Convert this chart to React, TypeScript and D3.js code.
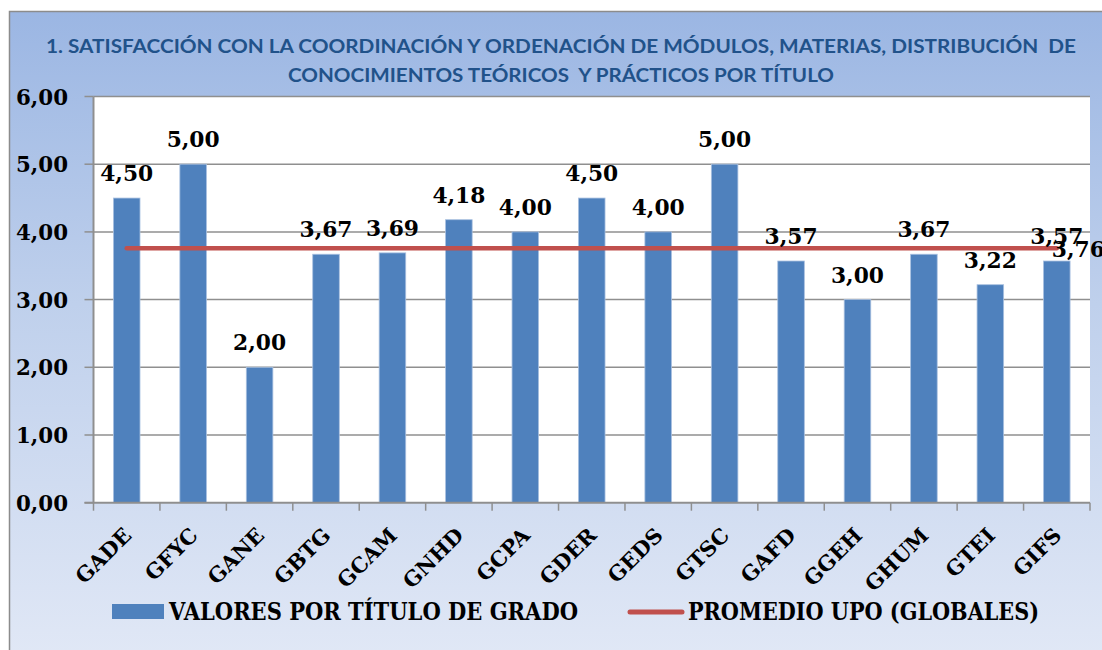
import React from "react";
import * as d3 from "d3";

const categories = ["GADE","GFYC","GANE","GBTG","GCAM","GNHD","GCPA","GDER","GEDS","GTSC","GAFD","GGEH","GHUM","GTEI","GIFS"];
const values = [4.50,5.00,2.00,3.67,3.69,4.18,4.00,4.50,4.00,5.00,3.57,3.00,3.67,3.22,3.57];
const averageValues = [3.76,3.76,3.76,3.76,3.76,3.76,3.76,3.76,3.76,3.76,3.76,3.76,3.76,3.76,3.76];
const yTicks = [0,1,2,3,4,5,6];
const titleLines = [
  "1. SATISFACCIÓN CON LA COORDINACIÓN Y ORDENACIÓN DE MÓDULOS, MATERIAS, DISTRIBUCIÓN  DE",
  "CONOCIMIENTOS TEÓRICOS  Y PRÁCTICOS POR TÍTULO",
];
const legendLabels = ["VALORES POR TÍTULO DE GRADO", "PROMEDIO UPO (GLOBALES)"];

const W = 1102, H = 650;
const plot = { left: 93.5, right: 1090, top: 96.5, bottom: 502.7 };
const BLUE = "#4F81BD";
const RED = "#C0504D";
const GRID = "#8f8f8f";
const SERIF = "'DejaVu Serif', serif";
const SANS = "Lato, 'Open Sans', sans-serif";

const fmt = (v: number) => d3.format(".2f")(v).replace(".", ",");

export default function App() {
  const x = d3.scaleBand<string>().domain(categories).range([plot.left, plot.right]).paddingInner(0.6).paddingOuter(0.3);
  const y = d3.scaleLinear().domain([0, 6]).range([plot.bottom, plot.top]);
  const step = x.step();
  const cx = (c: string) => (x(c) as number) + x.bandwidth() / 2;
  const line = d3.line<number>().x((_, i) => cx(categories[i])).y((d) => y(d));
  const boundaries = d3.range(categories.length + 1).map((i) => plot.left + i * step);
  const lastX = cx(categories[categories.length - 1]);

  return (
    <svg width={W} height={H} style={{ position: "absolute", left: 0, top: 0, background: "#fff" }}>
      <defs>
        <linearGradient id="bg" x1="0" y1="0" x2="0" y2="1">
          <stop offset="0" stopColor="#9BB6E3" />
          <stop offset="0.45" stopColor="#BFD0EC" />
          <stop offset="1" stopColor="#E1E8F6" />
        </linearGradient>
      </defs>
      <rect x={9.5} y={11.5} width={W} height={H} fill="url(#bg)" stroke="#8c8c8c" strokeWidth={1.5} />

      {/* title */}
      {titleLines.map((t, i) => (
        <text key={i} x={561} y={i === 0 ? 53 : 81.5} textAnchor="middle" fontFamily={SANS} fontWeight="bold"
          fontSize={18.5} fill="#21528A" style={{ whiteSpace: "pre" }}
          textLength={i === 0 ? 1030 : 546} lengthAdjust="spacingAndGlyphs">{t}</text>
      ))}

      {/* plot area */}
      <rect x={plot.left} y={plot.top} width={plot.right - plot.left} height={plot.bottom - plot.top} fill="#fff" />
      {yTicks.map((t) => (
        <g key={t}>
          {t > 0 && <line x1={plot.left} x2={plot.right} y1={y(t)} y2={y(t)} stroke={GRID} strokeWidth={1.5} />}
          <line x1={plot.left - 9} x2={plot.left} y1={y(t)} y2={y(t)} stroke={GRID} strokeWidth={1.5} />
          <text x={68} y={y(t) + 8} textAnchor="end" fontFamily={SERIF} fontWeight="bold" fontSize={21.5} fill="#000"
            textLength={52} lengthAdjust="spacingAndGlyphs">{fmt(t)}</text>
        </g>
      ))}

      {/* bars */}
      {categories.map((c, i) => (
        <rect key={c} x={x(c)} y={y(values[i])} width={x.bandwidth()} height={y(0) - y(values[i])}
          fill={BLUE} stroke="#A9C0E0" strokeWidth={0.8} />
      ))}

      {/* axes */}
      <line x1={plot.left} x2={plot.left} y1={plot.top} y2={plot.bottom} stroke={GRID} strokeWidth={2} />
      <line x1={plot.left - 9} x2={plot.right} y1={plot.bottom} y2={plot.bottom} stroke={GRID} strokeWidth={2} />
      {boundaries.map((b, i) => (
        <line key={i} x1={b} x2={b} y1={plot.bottom} y2={plot.bottom + 8} stroke={GRID} strokeWidth={1.5} />
      ))}

      {/* average line */}
      <path d={line(averageValues) as string} fill="none" stroke={RED} strokeWidth={4.5} strokeLinecap="round" />

      {/* bar labels */}
      {categories.map((c, i) => (
        <text key={c} x={cx(c)} y={y(values[i]) - 17} textAnchor="middle" fontFamily={SERIF} fontWeight="bold"
          fontSize={23} fill="#000" textLength={53} lengthAdjust="spacingAndGlyphs">{fmt(values[i])}</text>
      ))}
      <text x={lastX - 5} y={y(averageValues[averageValues.length - 1]) + 9} fontFamily={SERIF} fontWeight="bold"
        fontSize={23} fill="#000" textLength={53} lengthAdjust="spacingAndGlyphs">{fmt(averageValues[averageValues.length - 1])}</text>

      {/* x labels */}
      {categories.map((c) => (
        <text key={c} transform={`translate(${cx(c) + 6},${plot.bottom + 34}) rotate(-45)`} textAnchor="end"
          fontFamily={SERIF} fontWeight="bold" fontSize={21} fill="#000">{c}</text>
      ))}

      {/* legend */}
      <rect x={112} y={604} width={52} height={15} fill={BLUE} />
      <text x={169} y={620} fontFamily={SERIF} fontWeight="bold" fontSize={24} fill="#000"
        textLength={409} lengthAdjust="spacingAndGlyphs">{legendLabels[0]}</text>
      <line x1={630} x2={682} y1={612} y2={612} stroke={RED} strokeWidth={5} strokeLinecap="round" />
      <text x={688} y={620} fontFamily={SERIF} fontWeight="bold" fontSize={24} fill="#000"
        textLength={351} lengthAdjust="spacingAndGlyphs">{legendLabels[1]}</text>
    </svg>
  );
}
